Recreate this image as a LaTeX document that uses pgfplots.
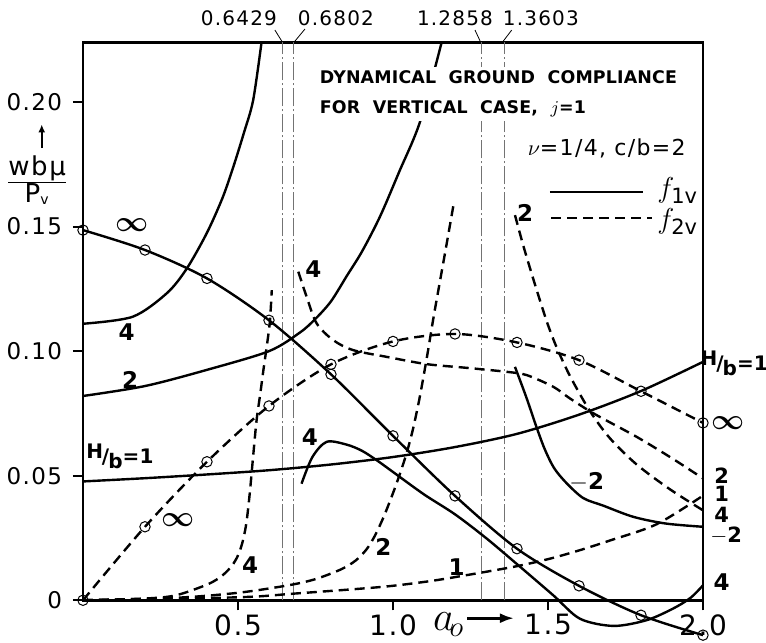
\documentclass[border=0pt]{standalone}
\usepackage{fontspec}
\setmainfont{DejaVu Sans}[LetterSpace=6]
\newfontfamily\ttlfont{DejaVu Sans}[LetterSpace=1]
\usepackage{pgfplots}
\pgfplotsset{compat=1.18}
\usetikzlibrary{arrows.meta}

\newcommand{\Hb}{\raisebox{0.45ex}{H}\kern-0.05em/\kern-0.05em\raisebox{-0.45ex}{b}}
\newcommand{\inft}{{\fontsize{14.4}{14.4}\selectfont\boldmath$\infty$}}
\tikzset{
 sol/.style={black, smooth, line width=1.2pt},
 dsh/.style={black, smooth, line width=1.2pt, dash pattern=on 5pt off 3pt},
 circ/.style={mark=o, mark size=2.6pt, mark options={solid, line width=0.5pt}},
 vl/.style={black!55, line width=0.5pt, dash pattern=on 9pt off 1.5pt on 1pt off 1.5pt},
 lab/.style={font=\fontsize{11.5}{11.5}\selectfont\bfseries},
 hlab/.style={font=\ttlfont\fontsize{10}{10}\selectfont\bfseries, inner sep=1pt},
}

\begin{document}
\begin{tikzpicture}
\begin{axis}[
 scale only axis, width=310pt, height=279pt,
 xmin=0, xmax=2, ymin=0, ymax=0.224,
 clip=false,
 axis line style={line width=1.3pt},
 xtick={0.5,1,1.5,2}, xticklabels={0.5,1.0,1.5,2.0},
 ytick={0,0.05,0.1,0.15,0.2}, yticklabels={0,0.05,0.10,0.15,0.20},
 xtick pos=left, ytick pos=left,
 tick align=outside, major tick length=5pt,
 tick style={line width=1pt,black},
 /pgf/number format/assume math mode=true,
 xticklabel style={font=\fontsize{14}{14}\selectfont, yshift=1.5pt},
 yticklabel style={font=\fontsize{11.5}{11.5}\selectfont, xshift=-2pt},
]
% ---------- vertical resonance lines ----------
\addplot[vl] coordinates {(0.6429,0) (0.6429,0.224)};
\addplot[vl] coordinates {(0.6802,0) (0.6802,0.224)};
\addplot[vl] coordinates {(1.2858,0) (1.2858,0.224)};
\addplot[vl] coordinates {(1.3603,0) (1.3603,0.224)};

% ---------- f1v (solid) ----------
% H/b = infinity
\addplot[sol, circ] coordinates {(0,0.1486) (0.2,0.1406) (0.4,0.1292) (0.6,0.1124) (0.8,0.0907) (1.0,0.0660) (1.2,0.0419) (1.4,0.0207) (1.6,0.0058) (1.8,-0.0060) (2.0,-0.0140)};
% H/b = 1
\addplot[sol] coordinates {(0,0.0477) (0.2,0.0490) (0.4,0.0505) (0.6,0.0522) (0.8,0.0545) (1.0,0.0575) (1.2,0.0615) (1.4,0.0668) (1.6,0.0745) (1.8,0.0840) (2.0,0.0957)};
% H/b = 2
\addplot[sol] coordinates {(0,0.0820) (0.2,0.0860) (0.4,0.0925) (0.6,0.1000) (0.7,0.1075) (0.75,0.1130) (0.8,0.1200) (0.85,0.1300) (0.9,0.1400) (0.958,0.1540) (1.02,0.1720) (1.087,0.1920) (1.157,0.2240)};
% H/b = 4 (upper)
\addplot[sol] coordinates {(0,0.1110) (0.16,0.1138) (0.27,0.1232) (0.334,0.1330) (0.399,0.1473) (0.45,0.1615) (0.485,0.1740) (0.52,0.1880) (0.549,0.2008) (0.576,0.2240)};
% H/b = 4 (lower)
\addplot[sol] coordinates {(0.705,0.0468) (0.74,0.0575) (0.786,0.0636) (0.85,0.0625) (0.9,0.0600) (0.95,0.0560) (1.0,0.0515) (1.1,0.0425) (1.2,0.0345) (1.3,0.0250) (1.4,0.0145) (1.517,0.0020) (1.603,-0.0074) (1.711,-0.0103) (1.818,-0.0080) (1.904,-0.0033) (1.96,0.0010) (2.0,0.0060)};
% H/b = -2
\addplot[sol] coordinates {(1.3935,0.0937) (1.43,0.0815) (1.4635,0.0693) (1.49,0.0605) (1.52,0.0530) (1.56,0.0470) (1.614,0.0410) (1.678,0.0380) (1.775,0.0335) (1.88,0.0308) (2.0,0.0295)};

% ---------- f2v (dashed) ----------
% H/b = infinity
\addplot[dsh, circ] coordinates {(0,0) (0.2,0.0295) (0.4,0.0556) (0.6,0.0780) (0.8,0.0947) (1.0,0.1039) (1.2,0.1069) (1.4,0.1035) (1.6,0.0964) (1.8,0.0839) (2.0,0.0712)};
% H/b = 4 (left of resonance)
\addplot[dsh] coordinates {(0,0) (0.2,0.0007) (0.3,0.0020) (0.404,0.0065) (0.45,0.0100) (0.48,0.0138) (0.50,0.0180) (0.515,0.0235) (0.527,0.0310) (0.538,0.0430) (0.549,0.0580) (0.560,0.0723) (0.572,0.0830) (0.582,0.0924) (0.594,0.1030) (0.603,0.1120) (0.609,0.1245)};
% H/b = 4 (right of resonance)
\addplot[dsh] coordinates {(0.6946,0.1319) (0.7215,0.1218) (0.754,0.1111) (0.8075,0.1044) (0.872,0.1004) (0.98,0.0977) (1.108,0.0948) (1.238,0.0933) (1.367,0.0917) (1.431,0.0904) (1.517,0.0857) (1.571,0.0810) (1.65,0.0748) (1.786,0.0656) (1.9,0.0570) (2.0,0.0489)};
% H/b = 2 (left)
\addplot[dsh] coordinates {(0,0) (0.3,0.0010) (0.5,0.0030) (0.662,0.0060) (0.75,0.0085) (0.834,0.0125) (0.88,0.0160) (0.915,0.0205) (0.942,0.0260) (0.97,0.0335) (1.0,0.0430) (1.023,0.0510) (1.045,0.0595) (1.065,0.0690) (1.087,0.0820) (1.11,0.0980) (1.13,0.1130) (1.15,0.1270) (1.173,0.1430) (1.195,0.1586)};
% H/b = 2 (right)
\addplot[dsh] coordinates {(1.3935,0.1546) (1.42,0.1425) (1.45,0.1300) (1.475,0.1200) (1.50,0.1105) (1.528,0.1015) (1.571,0.0900) (1.635,0.0760) (1.70,0.0650) (1.786,0.0545) (1.894,0.0445) (2.0,0.0361)};
% H/b = 1
\addplot[dsh] coordinates {(0,0) (0.5,0.0012) (0.684,0.0027) (0.958,0.0053) (1.103,0.0074) (1.205,0.0094) (1.388,0.0134) (1.5,0.0165) (1.6,0.0200) (1.7,0.0240) (1.85,0.0305) (2.0,0.0420)};

% ---------- title block ----------
\node[anchor=north west, fill=white, inner sep=2pt, align=left,
      font=\ttlfont\bfseries\fontsize{8.7}{15}\selectfont] at (axis cs:0.750,0.2142)
  {DYNAMICAL\ \ GROUND\ \ COMPLIANCE\\FOR\ \ VERTICAL\ \ CASE,\ \ {\mdseries$j$}=1};
\node[anchor=west, font=\fontsize{11}{11}\selectfont] at (axis cs:1.412,0.1815) {$\nu$=1/4, c/b=2};
\draw[line width=1.1pt] (axis cs:1.506,0.1639) -- (axis cs:1.806,0.1639);
\node[anchor=west, font=\fontsize{15}{15}\selectfont] at (axis cs:1.83,0.1645) {$f_{\mathrm{1v}}$};
\draw[line width=1.1pt, dash pattern=on 5pt off 3pt] (axis cs:1.51,0.1534) -- (axis cs:1.835,0.1534);
\node[anchor=west, font=\fontsize{15}{15}\selectfont] at (axis cs:1.83,0.1520) {$f_{\mathrm{2v}}$};

% ---------- resonance labels ----------
\node[font=\fontsize{10}{10}\selectfont] at (axis cs:0.503,0.2337) {0.6429};
\node[font=\fontsize{10}{10}\selectfont] at (axis cs:0.816,0.2337) {0.6802};
\node[font=\fontsize{10}{10}\selectfont] at (axis cs:1.200,0.2337) {1.2858};
\node[font=\fontsize{10}{10}\selectfont] at (axis cs:1.477,0.2337) {1.3603};
\draw[line width=0.4pt] (axis cs:0.619,0.2289) -- (axis cs:0.641,0.2245);
\draw[line width=0.4pt] (axis cs:0.716,0.2293) -- (axis cs:0.684,0.2245);
\draw[line width=0.4pt] (axis cs:1.2645,0.2289) -- (axis cs:1.281,0.2245);
\draw[line width=0.4pt] (axis cs:1.383,0.2289) -- (axis cs:1.356,0.2245);

% ---------- curve labels ----------
\node[lab] at (axis cs:0.157,0.1506) {\inft};
\node[lab] at (axis cs:0.141,0.1078) {4};
\node[lab] at (axis cs:0.152,0.0884) {2};
\node[hlab] at (axis cs:0.119,0.0578) {\Hb=1};
\node[lab] at (axis cs:0.307,0.0321) {\inft};
\node[lab] at (axis cs:0.539,0.0140) {4};
\node[lab] at (axis cs:0.732,0.0656) {4};
\node[lab] at (axis cs:0.969,0.0214) {2};
\node[lab] at (axis cs:1.205,0.0134) {1};
\node[lab] at (axis cs:1.625,0.0475) {$-$2};
\node[lab] at (axis cs:0.743,0.1330) {4};
\node[lab] at (axis cs:1.426,0.1553) {2};
\node[hlab] at (axis cs:2.101,0.0952) {\Hb=1};
\node[lab] at (axis cs:2.082,0.0712) {\inft};
\node[lab, font=\fontsize{10.5}{10.5}\selectfont\bfseries] at (axis cs:2.060,0.0502) {2};
\node[lab, font=\fontsize{10.5}{10.5}\selectfont\bfseries] at (axis cs:2.060,0.0426) {1};
\node[lab, font=\fontsize{10.5}{10.5}\selectfont\bfseries] at (axis cs:2.060,0.0343) {4};
\node[lab, font=\fontsize{10.5}{10.5}\selectfont\bfseries] at (axis cs:2.075,0.0258) {$-$2};
\node[lab] at (axis cs:2.060,0.0074) {4};

% ---------- axis labels ----------
\draw[line width=1pt, -{Latex[length=4pt,width=3.5pt]}] (axis cs:-0.133,0.1815) -- (axis cs:-0.133,0.1910);
\node[font=\fontsize{13}{13}\selectfont] at (axis cs:-0.148,0.1687)
  {$\frac{\mbox{wb\textmu}}{\mbox{P}_{\mbox{\scriptsize v}}}$};
\node[anchor=base west, font=\fontsize{22}{22}\selectfont, inner sep=0pt] at (axis cs:1.128,-0.0122) {$a_{\!o}$};
\draw[line width=1.3pt, -{Latex[length=7pt,width=5pt]}] (axis cs:1.240,-0.0072) -- (axis cs:1.390,-0.0072);

\coordinate (bbl) at (axis cs:-0.2677,-0.01687);
\coordinate (btr) at (axis cs:2.2032,0.24096);
\end{axis}
\pgfresetboundingbox
\useasboundingbox (bbl) rectangle (btr);
\end{tikzpicture}
\end{document}
